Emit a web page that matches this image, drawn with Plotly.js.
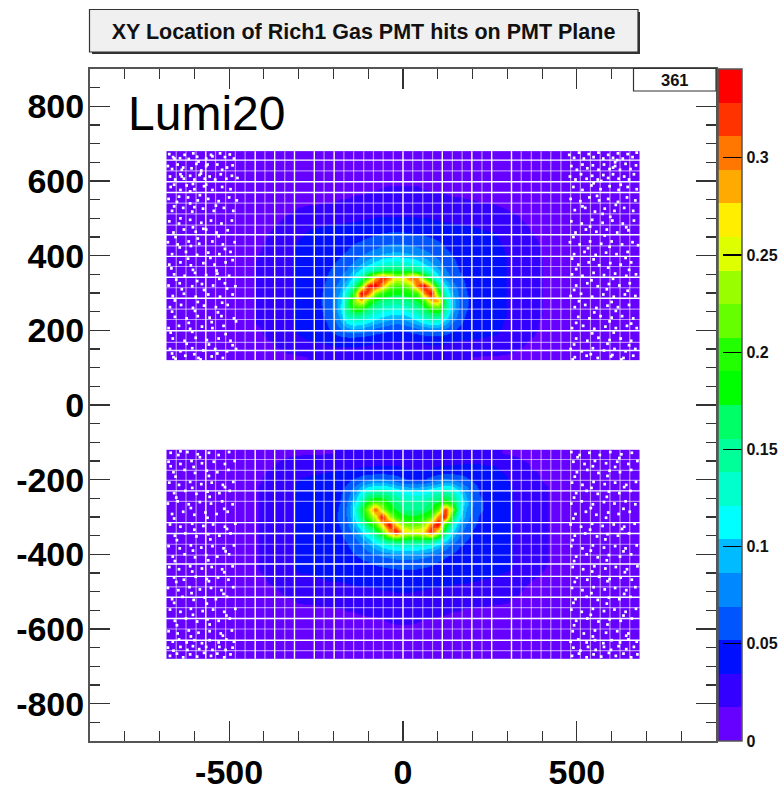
<!DOCTYPE html>
<html><head><meta charset="utf-8">
<script src="https://cdn.plot.ly/plotly-3.0.1.min.js"></script>
<style>html,body{margin:0;padding:0;background:#fff}#c{width:781px;height:790px}</style>
</head><body><div id="c"></div>
<script>
// Bin edges (data units)
const xEdges=[-680,-590,-450,-370,-320,-280,-250,-230,-210,-190,-170,-150,-130,-110,-90,-70,-50,-30,-10,10,30,50,70,90,110,130,150,170,190,210,230,250,280,320,370,450,590,680];
const yEdgesUpper=[120,140,170,190,210,230,250,270,290,310,330,350,370,390,410,430,450,470,490,520,570,640,680];
const yEdgesLower=[-680,-640,-570,-520,-490,-470,-450,-430,-410,-390,-370,-350,-330,-310,-290,-270,-250,-230,-210,-190,-170,-140,-120];

// Occupancy x 1000, rows listed top of picture to bottom
const upperZ=[
[2,3,4,5,6,7,7,7,8,8,8,8,9,9,9,9,10,10,10,10,9,9,9,9,8,8,8,8,8,7,7,7,6,5,4,3,2],
[3,4,6,8,10,11,11,12,12,13,13,14,14,15,15,16,16,16,16,16,16,15,15,14,14,13,13,13,12,12,11,11,9,7,5,4,3],
[3,6,9,12,15,16,16,17,17,18,18,19,19,20,20,20,21,21,21,21,21,21,20,20,20,19,19,18,18,17,17,16,14,11,8,5,3],
[4,7,12,17,23,25,26,27,28,29,30,31,32,33,34,35,35,35,35,35,34,34,33,32,31,30,29,28,27,26,25,25,22,16,11,7,4],
[5,8,14,20,28,33,34,35,36,37,38,39,40,41,43,44,45,45,45,44,44,43,41,40,38,37,36,35,34,33,32,31,26,19,13,8,4],
[5,9,15,23,32,37,38,39,40,41,42,44,46,48,50,52,53,54,53,52,51,50,48,46,44,42,41,39,38,37,36,35,29,21,14,9,5],
[5,10,16,25,35,40,41,42,43,45,47,49,52,55,58,61,63,64,63,62,60,58,55,52,49,46,44,42,40,39,38,37,31,23,15,9,5],
[6,10,17,27,37,42,43,44,46,48,51,55,59,64,68,73,76,77,76,74,71,67,62,57,52,49,46,44,42,40,39,38,33,24,16,10,5],
[6,11,18,28,39,43,44,46,48,51,55,61,68,76,83,91,96,98,96,92,87,80,72,64,57,52,48,45,43,41,40,39,34,25,16,10,5],
[6,11,19,29,40,44,45,48,51,55,62,71,84,97,110,122,128,130,128,124,116,102,88,74,63,55,50,46,44,42,40,39,34,25,16,10,5],
[6,11,19,29,40,45,47,50,54,61,72,90,112,134,152,163,168,170,168,165,158,140,118,92,72,60,52,47,44,42,41,39,34,25,16,10,5],
[6,11,19,29,40,45,48,52,58,68,85,112,150,205,285,335,300,252,262,300,300,215,155,112,82,65,55,49,45,43,41,40,34,25,16,10,5],
[6,11,19,29,40,46,49,54,62,78,105,150,215,335,345,290,225,205,210,230,310,345,265,160,110,78,60,51,46,43,42,40,34,25,16,10,5],
[6,11,19,29,40,47,50,56,68,90,130,195,345,310,225,195,182,178,180,190,205,295,345,205,130,90,66,53,47,44,42,40,34,25,16,10,5],
[6,11,19,29,40,47,51,58,72,100,150,225,280,205,175,160,152,150,152,160,175,200,280,290,150,98,70,54,48,44,42,40,34,25,16,10,5],
[6,11,19,29,40,46,50,57,72,100,155,195,190,165,145,132,128,125,128,135,150,170,195,205,150,98,68,53,47,44,42,40,34,25,16,10,5],
[6,11,19,29,40,46,49,55,68,92,135,150,145,130,118,108,102,98,100,108,122,140,155,155,125,85,62,50,46,43,41,39,34,25,16,10,5],
[6,11,19,29,39,44,47,52,62,80,108,118,115,105,92,84,78,72,75,84,96,108,118,115,95,70,56,47,44,42,40,38,33,24,15,9,5],
[5,10,17,27,37,42,45,48,55,66,78,80,78,70,62,57,54,52,53,56,62,68,74,72,64,54,48,44,42,40,38,37,32,23,15,9,4],
[5,9,16,24,33,38,40,42,45,48,50,50,48,45,42,40,39,38,38,39,41,43,45,45,43,40,38,37,36,35,34,33,29,21,14,8,4],
[4,8,13,20,26,30,31,32,33,34,34,34,33,32,31,30,30,29,29,29,30,31,32,32,31,30,29,29,28,27,26,26,23,17,11,7,3],
[3,5,8,12,16,18,18,19,19,20,20,20,20,19,19,18,18,18,18,18,18,19,19,19,19,18,18,18,17,17,16,16,14,10,7,4,3]
];
const lowerZ=[
[3,5,8,12,15,16,16,17,17,18,18,18,18,18,19,19,19,19,19,18,18,18,18,18,19,19,20,20,20,20,19,19,16,12,8,5,3],
[4,8,13,20,25,25,26,26,27,28,29,29,30,30,31,32,32,32,31,30,29,29,30,31,31,32,33,34,34,34,33,33,26,19,13,8,4],
[5,9,16,24,31,33,34,35,36,37,38,40,43,45,46,47,46,44,41,39,38,38,41,45,47,48,47,46,44,43,41,40,32,23,15,9,5],
[5,10,17,26,35,37,38,40,42,44,48,54,62,70,74,74,70,62,55,52,50,52,60,68,76,70,62,55,50,48,46,43,35,25,16,10,5],
[6,11,18,28,38,38,40,42,44,47,56,70,90,108,116,118,112,100,92,88,88,92,100,108,116,112,90,72,56,50,47,44,38,27,18,11,6],
[6,11,18,28,38,39,41,43,45,50,62,85,120,148,158,160,150,135,125,120,118,122,132,145,155,145,115,85,62,52,48,45,38,27,18,11,6],
[6,11,18,28,38,40,41,43,46,52,68,100,145,190,210,200,175,158,148,145,145,148,160,175,195,175,130,95,70,55,50,46,38,27,18,11,6],
[6,11,18,28,38,40,41,44,47,54,72,112,170,235,320,230,190,170,155,150,150,158,175,210,320,235,125,85,66,55,50,47,38,27,18,11,6],
[6,11,18,28,38,40,41,44,48,55,70,105,158,205,250,345,240,200,182,178,180,190,210,300,330,175,112,80,60,50,46,44,38,27,18,11,6],
[6,11,18,28,38,40,41,43,47,53,66,90,130,172,205,275,345,265,225,210,215,230,300,345,195,130,90,68,55,48,45,43,38,27,18,11,6],
[6,11,18,28,38,39,40,42,45,50,60,75,98,128,160,200,290,340,275,258,262,275,335,250,160,108,78,60,50,46,43,42,38,27,18,11,6],
[6,11,18,28,38,39,40,41,44,48,54,65,80,100,122,150,172,180,178,172,172,176,170,145,115,85,65,53,47,44,42,41,38,27,18,11,6],
[6,11,18,28,38,38,39,41,43,46,50,57,66,78,92,105,115,120,122,120,118,115,108,92,76,62,52,47,44,42,41,40,38,27,18,11,6],
[6,11,18,28,38,38,39,40,42,44,47,51,56,62,68,74,78,82,84,84,82,78,72,64,56,50,46,44,42,41,40,39,38,27,18,11,6],
[6,11,18,28,38,37,38,39,41,42,44,46,49,52,55,58,60,62,63,63,62,60,56,52,48,45,43,42,41,40,39,38,38,27,18,11,6],
[6,11,18,28,36,36,37,38,39,40,41,42,44,45,47,48,50,51,52,52,51,49,47,45,43,42,41,40,39,38,37,37,36,26,17,11,6],
[5,10,16,25,33,34,35,36,37,37,38,39,40,41,42,43,44,45,45,45,44,43,42,41,40,39,38,37,37,36,35,35,31,22,15,9,5],
[5,9,15,22,28,30,31,32,33,33,34,35,36,36,37,38,38,39,39,39,39,38,37,36,36,35,34,34,33,32,32,31,27,19,13,8,5],
[4,7,12,18,24,26,27,28,28,29,30,30,31,31,32,33,33,34,34,34,33,33,32,32,31,30,30,29,28,28,27,27,23,16,11,7,4],
[3,6,9,12,15,15,16,16,17,17,18,18,19,19,19,20,20,21,21,21,20,20,20,19,19,18,18,17,17,16,16,15,15,11,8,5,3],
[3,4,6,8,10,12,12,13,13,13,14,14,14,15,15,15,16,16,16,16,16,15,15,15,14,14,14,13,13,13,12,12,10,7,5,4,3],
[2,3,4,5,7,8,8,8,9,9,9,9,10,10,10,10,10,10,10,10,10,10,10,10,9,9,9,9,9,8,8,8,7,5,4,3,2]
];

// ROOT palette, bottom to top
const palette=['#6600ff','#3300ff','#0010ff','#0055ff','#0088ff','#00bbff','#00ffff','#00ffcc','#00ff99','#00ff66','#00ff00','#22ff00','#66ff00','#99ff00','#ddff00','#ffee00','#ffaa00','#ff7700','#ff3300','#ff0000'];
const zMax=0.3457;
const cbTickVals=[0,0.05,0.1,0.15,0.2,0.25,0.3];
const cbTickText=['0','0.05','0.1','0.15','0.2','0.25','0.3'];
const xTickVals=[-500,0,500];
const xTickText=['-500','0','500'];
const yTickVals=[-800,-600,-400,-200,0,200,400,600,800];
const yTickText=['-800','-600','-400','-200','0','200','400','600','800'];

// Gaps between PMTs
const vStrong=[-567,-425,-369,-312,-255,-198,0,113,198,255,312];
const vFaint=[-652,-624,-595,-539,-510,-482,-454,-397,-340,-227,-170,-142,-113,-85,-57,-28,28,57,85,142,170,227,340,369,397,425,454,482,510,539,567,595,624,652];
const hStrongUpper=[656,598,569,456,398,342,286,199,146];
const hFaintUpper=[627,541,512,482,426,371,314,257,229,168];
const hStrongLower=[-230,-315,-344,-426,-459,-515,-572,-630];
const hFaintLower=[-146,-175,-202,-258,-373,-402,-487,-543,-600,-658];

// Dead channels: flat x,y lists
const deadUL=[-672,672,-661,664,-657,660,-641,661,-628,670,-616,659,-603,674,-592,665,-588,652,-566,660,-552,670,-548,666,-526,674,-512,664,-498,671,-486,660,
-676,640,-664,632,-648,644,-636,630,-632,636,-608,634,-594,646,-580,628,-566,640,-562,644,-534,644,-520,630,-506,636,-490,642,
-670,612,-655,604,-640,618,-636,612,-630,606,-612,614,-600,604,-585,616,-581,620,-570,606,-556,612,-540,604,-524,618,-508,606,-492,614,-476,608,
-668,584,-658,590,-640,576,-622,588,-600,578,-572,586,-566,590,-548,576,-520,584,-496,578,-604,592,-612,572,
-674,552,-650,544,-618,556,-590,548,-560,552,-530,546,-500,556,-478,548,-644,558,-612,540,-584,562,
-664,520,-632,528,-606,518,-575,526,-544,520,-515,528,-488,520,-658,532,-600,530,-538,534,
-672,492,-644,486,-612,496,-580,488,-552,494,-522,486,-492,494,-640,500,-604,476,-574,472,
-660,462,-630,470,-596,464,-566,470,-536,462,-504,468,-654,450,-590,446,-530,452,
-676,436,-648,430,-616,438,-586,432,-548,438,-518,430,-484,436,-642,422,-610,426,-512,418,
-664,404,-624,410,-592,402,-560,408,-528,404,-496,410,-618,392,-554,394,-490,388,
-672,376,-640,382,-610,374,-574,380,-542,376,-510,382,-666,366,-604,362,-536,360,
-658,350,-628,346,-598,354,-566,348,-534,352,-500,346,-652,336,-592,332,-528,338,
-674,320,-642,326,-606,318,-578,324,-546,320,-512,326,-482,318,-636,310,-572,308,-506,312,
-662,292,-630,298,-596,290,-560,296,-526,290,-490,296,-656,280,-590,276,-520,274,
-670,262,-638,268,-604,260,-572,266,-538,262,-504,268,-664,250,-598,252,-532,248,
-656,236,-622,232,-590,238,-556,234,-522,238,-486,232,-616,220,-550,222,-480,224,
-674,206,-644,212,-612,204,-578,210,-548,206,-516,212,-668,194,-606,196,-510,190,
-662,178,-628,172,-596,180,-564,174,-530,178,-496,172,-622,164,-558,162,-490,160,
-670,150,-640,144,-606,152,-574,146,-540,150,-506,144,-480,150,-664,138,-600,136,-534,138,
-660,128,-626,132,-588,126,-550,130,-518,126,-654,124,-582,122];
const deadUR=[478,670,492,662,506,676,520,660,534,672,548,664,562,676,576,660,590,670,604,662,618,674,632,660,646,672,660,664,672,676,610,650,616,656,
484,640,500,630,516,644,530,634,546,642,562,630,578,644,594,632,610,640,624,630,640,646,654,632,670,642,604,636,
480,612,496,604,512,618,528,606,544,614,560,604,576,616,590,608,604,618,620,606,636,612,650,604,664,618,570,600,
490,584,516,576,542,588,568,578,594,586,620,576,646,584,672,578,548,594,626,590,
482,552,510,546,536,556,564,548,590,552,618,544,644,556,668,548,558,560,612,536,
494,522,524,528,552,518,580,526,608,520,636,528,662,520,516,532,574,512,
484,492,514,486,544,496,574,488,602,494,632,486,664,494,538,478,596,504,
496,462,526,470,556,464,586,470,616,462,648,468,490,450,580,454,642,476,
480,436,508,430,538,438,570,432,600,438,630,430,660,436,676,428,532,420,594,424,
492,404,522,410,554,402,584,408,614,404,646,410,486,392,548,390,640,394,
504,376,534,382,564,374,596,380,626,376,656,382,498,364,590,368,650,362,
486,350,516,346,548,354,578,348,610,352,642,346,670,350,542,334,604,338,
498,320,530,326,560,318,592,324,622,320,652,326,492,308,586,310,646,306,
482,292,512,298,544,290,576,296,606,290,638,296,668,292,506,278,600,276,
494,262,524,268,556,260,588,266,618,262,650,268,550,248,612,252,
504,236,536,232,568,238,600,234,630,238,662,232,498,220,594,224,656,218,
486,206,518,212,550,204,582,210,612,206,644,212,672,206,544,192,606,194,
498,178,530,172,562,180,594,174,626,178,656,172,492,162,588,164,650,160,
482,150,514,144,546,152,578,146,608,150,640,144,668,150,540,136,602,134,
494,128,528,132,560,126,598,130,634,126,662,132,488,122,628,122];
const deadLL=[-668,-128,-646,-134,-620,-126,-590,-132,-558,-128,-530,-134,-500,-126,-640,-124,-584,-140,
-674,-152,-640,-158,-608,-150,-578,-156,-544,-152,-512,-158,-484,-150,-668,-164,-602,-166,
-660,-180,-628,-174,-598,-182,-564,-176,-534,-180,-502,-174,-654,-192,-558,-190,
-672,-208,-644,-214,-612,-206,-580,-212,-550,-208,-518,-214,-488,-206,-606,-222,-512,-220,
-658,-236,-626,-230,-594,-238,-562,-232,-528,-236,-498,-230,-652,-248,-556,-246,
-676,-264,-648,-258,-616,-266,-584,-260,-552,-264,-520,-258,-490,-266,-610,-276,-514,-278,
-664,-292,-632,-286,-600,-294,-568,-288,-536,-292,-504,-286,-658,-304,-562,-302,
-670,-320,-640,-326,-606,-318,-574,-324,-546,-320,-512,-326,-482,-318,-600,-334,-506,-332,
-656,-350,-626,-344,-594,-352,-560,-346,-528,-350,-496,-344,-650,-362,-554,-360,
-674,-378,-642,-384,-610,-376,-580,-382,-548,-378,-516,-384,-486,-376,-604,-390,-510,-392,
-662,-406,-628,-400,-598,-408,-566,-402,-534,-406,-500,-400,-656,-418,-560,-416,
-672,-434,-644,-440,-612,-432,-578,-438,-550,-434,-520,-440,-490,-432,-606,-446,-514,-448,
-658,-462,-630,-468,-596,-460,-564,-466,-532,-462,-502,-468,-652,-474,-558,-472,
-676,-490,-646,-496,-614,-488,-584,-494,-552,-490,-522,-496,-488,-488,-608,-504,-516,-506,
-664,-520,-634,-514,-602,-522,-570,-516,-538,-520,-506,-514,-658,-530,-564,-532,
-670,-548,-640,-554,-610,-546,-576,-552,-546,-548,-514,-554,-482,-546,-604,-562,-508,-564,
-656,-578,-624,-572,-592,-580,-562,-574,-530,-578,-498,-572,-650,-590,-556,-588,
-674,-606,-648,-612,-616,-604,-588,-610,-556,-606,-524,-612,-492,-604,-610,-620,-518,-618,
-662,-634,-644,-628,-622,-636,-600,-630,-578,-638,-556,-630,-530,-636,-508,-628,-486,-634,
-676,-650,-660,-658,-640,-648,-620,-656,-604,-646,-586,-654,-566,-648,-548,-656,-528,-648,-510,-656,-490,-650,
-670,-672,-650,-666,-632,-676,-612,-668,-592,-674,-572,-664,-552,-672,-534,-666,-514,-676,-496,-668];
const deadLR=[484,-126,508,-134,536,-128,566,-134,596,-126,628,-132,658,-128,502,-140,622,-142,
490,-152,522,-158,552,-150,584,-156,616,-152,648,-158,674,-150,546,-164,610,-166,
500,-180,530,-174,562,-182,594,-176,624,-180,656,-174,494,-192,588,-190,
486,-208,516,-214,548,-206,580,-212,610,-208,642,-214,670,-206,542,-222,636,-220,
498,-236,528,-230,560,-238,592,-232,622,-236,654,-230,492,-248,586,-246,
484,-264,514,-258,546,-266,578,-260,608,-264,640,-258,668,-266,540,-276,634,-278,
496,-292,526,-286,556,-294,590,-288,620,-292,652,-286,490,-304,584,-302,
482,-320,512,-326,544,-318,574,-324,606,-320,636,-326,666,-318,538,-334,630,-332,
494,-350,524,-344,558,-352,588,-346,618,-350,650,-344,488,-362,582,-360,
484,-378,516,-384,546,-376,578,-382,610,-378,640,-384,672,-376,540,-390,634,-392,
498,-406,528,-400,560,-408,592,-402,624,-406,656,-400,492,-418,586,-416,
488,-434,518,-440,550,-432,582,-438,612,-434,644,-440,674,-432,544,-446,638,-448,
500,-462,530,-468,564,-460,594,-466,626,-462,658,-468,494,-474,588,-472,
486,-490,516,-496,548,-488,580,-494,610,-490,642,-496,668,-488,542,-504,636,-506,
496,-520,528,-514,560,-522,592,-516,622,-520,654,-514,490,-530,586,-532,
484,-548,514,-554,546,-546,578,-552,608,-548,640,-554,670,-546,540,-562,634,-564,
498,-578,530,-572,562,-580,594,-574,626,-578,658,-572,492,-590,588,-588,
488,-606,520,-612,552,-604,584,-610,616,-606,648,-612,546,-620,642,-618,
482,-634,504,-628,528,-636,552,-630,576,-638,600,-630,624,-636,648,-628,672,-634,
490,-650,510,-658,532,-648,554,-656,578,-648,598,-656,620,-646,642,-654,664,-648,
486,-672,506,-666,528,-676,548,-668,570,-674,592,-664,612,-672,634,-666,656,-676,674,-668];

const W=781,H=790,L=90,R=65,T=69,B=49;
const px=v=>(v-L)/(W-L-R), py=v=>1-(v-T)/(H-T-B);
const scale=palette.flatMap((c,i)=>[[i/palette.length,c],[(i+1)/palette.length,c]]);
const thousandths=m=>m.map(r=>r.map(v=>v/1000));
const bottomUp=m=>thousandths(m).reverse();
const pairs=a=>{const x=[],y=[];for(let i=0;i<a.length;i+=2){x.push(a[i]);y.push(a[i+1]);}return {x,y};};
const deadTrace=a=>{const p=pairs(a);return {type:'scatter',mode:'markers',x:p.x,y:p.y,hoverinfo:'skip',showlegend:false,
  marker:{symbol:'square',size:2.7,color:'#fff',line:{width:0}}};};

const data=[
 {type:'heatmap',x:xEdges,y:yEdgesUpper,z:bottomUp(upperZ),coloraxis:'coloraxis',zsmooth:'best',hoverinfo:'skip'},
 {type:'heatmap',x:xEdges,y:yEdgesLower,z:bottomUp(lowerZ),coloraxis:'coloraxis',zsmooth:'best',hoverinfo:'skip'},
 deadTrace(deadUL),deadTrace(deadUR),deadTrace(deadLL),deadTrace(deadLR)
];

const strong={color:'#ffffff',width:1.4}, faint={color:'rgba(255,255,255,0.55)',width:1.2};
const shapes=[];
const vLine=(x,y0,y1,line)=>shapes.push({type:'line',xref:'x',yref:'y',x0:x,x1:x,y0,y1,line,layer:'above'});
const hLine=(y,line)=>shapes.push({type:'line',xref:'x',yref:'y',x0:-681,x1:681,y0:y,y1:y,line,layer:'above'});
[[vFaint,faint],[vStrong,strong]].forEach(([a,l])=>a.forEach(x=>{vLine(x,120,680,l);vLine(x,-680,-120,l);}));
[[hFaintUpper,faint],[hFaintLower,faint],[hStrongUpper,strong],[hStrongLower,strong]].forEach(([a,l])=>a.forEach(y=>hLine(y,l)));
const box=(x0,y0,x1,y1,fill,line)=>shapes.push({type:'rect',xref:'paper',yref:'paper',x0:px(x0),x1:px(x1),y0:py(y0),y1:py(y1),fillcolor:fill,line,layer:'above'});
box(92,12,640,54,'#333',{width:0});
box(89.5,9.5,638,52,'#f0f0f0',{color:'#333',width:1.2});
box(633.5,68.5,716,91,'#fff',{color:'#333',width:1.2});

const fam='"Liberation Sans", Arial, sans-serif';
const axisCommon={zeroline:false,showgrid:false,showline:true,mirror:'ticks',linecolor:'#555',linewidth:2,
  ticks:'inside',ticklen:20,tickwidth:1.2,tickcolor:'#333',tickmode:'array',
  tickfont:{family:fam,size:34,color:'#000',weight:'bold'}};
const layout={
 width:W,height:H,margin:{l:L,r:R,t:T,b:B,autoexpand:false},paper_bgcolor:'#fff',plot_bgcolor:'#fff',showlegend:false,
 title:{text:'XY Location of Rich1 Gas PMT hits on PMT Plane',xref:'paper',yref:'container',x:px(363.5),xanchor:'center',y:1-31/H,yanchor:'middle',
   font:{family:fam,size:21.5,color:'#111',weight:'bold'}},
 xaxis:{...axisCommon,range:[-900,900],tickvals:xTickVals,ticktext:xTickText,ticklabelstandoff:0,
   minor:{dtick:100,tick0:0,ticks:'inside',ticklen:10,tickwidth:1.2,tickcolor:'#333',showgrid:false}},
 yaxis:{...axisCommon,range:[-900,900],tickvals:yTickVals,ticktext:yTickText,ticklabelstandoff:-3,
   minor:{dtick:50,tick0:0,ticks:'inside',ticklen:10,tickwidth:1.2,tickcolor:'#333',showgrid:false}},
 coloraxis:{cmin:0,cmax:zMax,colorscale:scale,colorbar:{
   x:(718-L)/(W-L-R),xanchor:'left',xref:'paper',y:0,yanchor:'bottom',yref:'paper',len:1,lenmode:'fraction',thickness:24,thicknessmode:'pixels',
   xpad:0,ypad:0,outlinewidth:1.5,outlinecolor:'#555',borderwidth:0,
   tickmode:'array',tickvals:cbTickVals,ticktext:cbTickText,ticks:'inside',ticklen:19,tickwidth:1.2,tickcolor:'#000',
   tickfont:{family:fam,size:16,color:'#111',weight:'bold'}}},
 shapes,
 annotations:[
  {xref:'paper',yref:'paper',x:px(674.5),y:py(80),text:'361',showarrow:false,xanchor:'center',yanchor:'middle',font:{family:fam,size:16.5,color:'#111',weight:'bold'}},
  {xref:'paper',yref:'paper',x:px(126),y:py(114),text:'Lumi20',showarrow:false,xanchor:'left',yanchor:'middle',font:{family:fam,size:48,color:'#000'}}
 ]
};
Plotly.newPlot('c',data,layout,{staticPlot:true,displayModeBar:false});
</script></body></html>
